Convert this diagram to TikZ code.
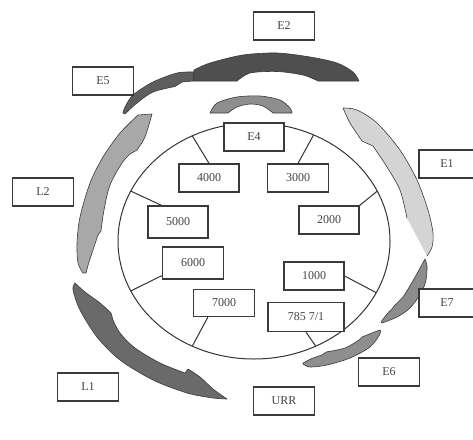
\documentclass[tikz,border=0pt]{standalone}
\usepackage{fontspec}
\setmainfont{Liberation Serif}
\usetikzlibrary{calc}
\definecolor{boxc}{HTML}{3A3A3A}
\definecolor{txtc}{HTML}{444444}
\definecolor{linec}{HTML}{333333}
\definecolor{edgec}{HTML}{3A3A3A}
\definecolor{gE2}{HTML}{4F4F4F}
\definecolor{gE5}{HTML}{5E5E5E}
\definecolor{gL1}{HTML}{6A6A6A}
\definecolor{gL2}{HTML}{A8A8A8}
\definecolor{gE1}{HTML}{D4D4D4}
\definecolor{gE7}{HTML}{8C8C8C}
\definecolor{gE6}{HTML}{8E8E8E}
\definecolor{gE4}{HTML}{8E8E8E}
\begin{document}
\begin{tikzpicture}[x=1pt,y=-1pt,
  lbl/.style={draw=boxc, line width=1.3pt, fill=white, inner sep=0pt,
              minimum width=61pt, minimum height=28pt,
              font=\fontsize{12}{14}\selectfont, text=txtc},
  conn/.style={draw=linec, line width=1pt},
  gene/.style={draw=edgec, line width=0.6pt, line join=round}]
\useasboundingbox (0,0) rectangle (473,439);

% ---- gene arcs ----
% E2
\filldraw[gene, fill=gE2]
  plot[smooth] coordinates {(194,70) (210,63) (243,55) (277,53) (310,57) (337,63) (353,72) (359,81)}
  -- (318,81)
  -- plot[smooth] coordinates {(318,81) (303,75) (277,71.5) (250,73) (237,81)}
  -- (193,81) -- cycle;
% E5
\filldraw[gene, fill=gE5]
  plot[smooth] coordinates {(194,72) (177,73) (153,82) (133,95) (125,107) (123,113)}
  -- plot[smooth] coordinates {(125,114) (137,103) (153,92) (175,86.5)}
  -- (182,82) -- (193,81) -- cycle;
% E4 arch
\filldraw[gene, fill=gE4]
  plot[smooth] coordinates {(210,113) (217,103) (237,97) (260,96) (280,100) (290,108) (292,113)}
  -- (273,113)
  -- plot[smooth] coordinates {(273,113) (263,106) (250,104) (237,107) (228,113)}
  -- cycle;
% L2
\filldraw[gene, fill=gL2]
  plot[smooth] coordinates {(138,115) (120,133) (103,157) (90,183) (80,217) (77,243) (78,263) (83,273)}
  -- plot[smooth] coordinates {(86,273) (89,262) (94,247) (98,235)}
  -- (101,231)
  -- plot[smooth] coordinates {(101,231) (104,210) (110,185) (122,163) (130,154)}
  -- (137,150)
  -- plot[smooth] coordinates {(137,150) (145,137) (152,114)}
  -- cycle;
% L1
\filldraw[gene, fill=gL1]
  plot[smooth] coordinates {(75,283) (73,290) (80,310) (97,337) (120,360) (153,380) (187,393) (213,398) (227,399)}
  -- plot[smooth] coordinates {(227,399) (213,389) (200,377) (188,369)}
  -- (185,373)
  -- plot[smooth] coordinates {(185,373) (160,363) (135,348) (120,333) (113,320)}
  -- (111,313)
  -- plot[smooth] coordinates {(111,313) (100,303) (85,292) (75,283)}
  -- cycle;
% E1
\fill[gE1]
  plot[smooth] coordinates {(343,108) (357,110) (377,123) (400,150) (417,180) (428,210) (433,233) (432,247) (427,256)}
  -- (407,218)
  -- plot[smooth] coordinates {(407,218) (400,190) (387,167) (373,146)}
  -- (364,142)
  -- plot[smooth] coordinates {(362,141) (350,123) (343,108)}
  -- cycle;
\draw[gene]
  plot[smooth] coordinates {(343,108) (357,110) (377,123) (400,150) (417,180) (428,210) (433,233) (432,247) (427,256)};
\draw[gene]
  plot[smooth] coordinates {(407,218) (400,190) (387,167) (373,146)}
  -- (364,142)
  -- plot[smooth] coordinates {(362,141) (350,123) (343,108)};
% E7
\filldraw[gene, fill=gE7]
  plot[smooth] coordinates {(425,259) (427,266) (426,280) (421,293) (410,308) (397,317) (382,323)}
  -- plot[smooth] coordinates {(381,322) (387,314) (392,309)}
  -- (394,306)
  -- plot[smooth] coordinates {(394,306) (403,297) (411,284)}
  -- (414,279)
  -- plot[smooth] coordinates {(414,279) (419,270) (425,259)}
  -- cycle;
% E6
\filldraw[gene, fill=gE6]
  plot[smooth] coordinates {(380,330) (380,334) (370,347) (350,358) (327,365) (310,367) (303,364)}
  -- plot[smooth] coordinates {(303,363) (313,358) (322,355)}
  -- (326,352)
  -- plot[smooth] coordinates {(326,352) (345,348) (359,340)}
  -- (362,337)
  -- plot[smooth] coordinates {(362,337) (372,333) (380,330)}
  -- cycle;

% ---- inner ring ----
\draw[conn] (254,241) ellipse [x radius=136pt, y radius=118pt];

% ---- ring points ----
\coordinate (q4) at (192.3,135.9);
\coordinate (q3) at (313.6,134.9);
\coordinate (q5) at (130.8,191.1);
\coordinate (q2) at (377.3,191.1);
\coordinate (q6) at (130.8,290.9);
\coordinate (q1) at (376.3,292.7);
\coordinate (q7) at (192.3,346.1);
\coordinate (q78) at (315.7,346.1);

% ---- boxes ----
\node[lbl] (E2) at (284,26) {E2};
\node[lbl] (E5) at (103,81) {E5};
\node[lbl] (L2) at (43,192) {L2};
\node[lbl, minimum width=62pt] (E1) at (450,164) {E1\hspace*{6pt}};
\node[lbl, minimum width=62pt] (E7) at (450,303) {E7\hspace*{6pt}};
\node[lbl] (E6) at (389,372) {E6};
\node[lbl] (URR) at (284,401) {URR};
\node[lbl] (L1) at (88,387) {L1};
\node[lbl, minimum width=60pt] (E4) at (254,137) {E4};
\node[lbl, minimum width=60pt] (b4000) at (209,178) {4000};
\node[lbl] (b3000) at (298,178) {3000};
\node[lbl, minimum width=60pt, minimum height=32pt] (b5000) at (178,222) {5000};
\node[lbl, minimum width=60pt] (b2000) at (329,220) {2000};
\node[lbl, minimum height=32pt] (b6000) at (193,263) {6000};
\node[lbl, minimum width=60pt] (b1000) at (314,276) {1000};
\node[lbl, minimum height=27pt] (b7000) at (224,303) {7000};
\node[lbl, minimum width=76pt, minimum height=29pt] (b7857) at (306,317) {785 7/1};

% ---- connectors ----
\draw[conn] (b4000.north) -- (q4);
\draw[conn] (b3000.north) -- (q3);
\draw[conn] ($(b5000.north west)!0.23!(b5000.north east)$) -- (q5);
\draw[conn] (b2000.north east) -- (q2);
\draw[conn] ([yshift=4pt]b6000.south west) -- (q6);
\draw[conn] (b1000.east) -- (q1);
\draw[conn] ([xshift=15pt]b7000.south west) -- (q7);
\draw[conn] (b7857.south) -- (q78);
\end{tikzpicture}
\end{document}
